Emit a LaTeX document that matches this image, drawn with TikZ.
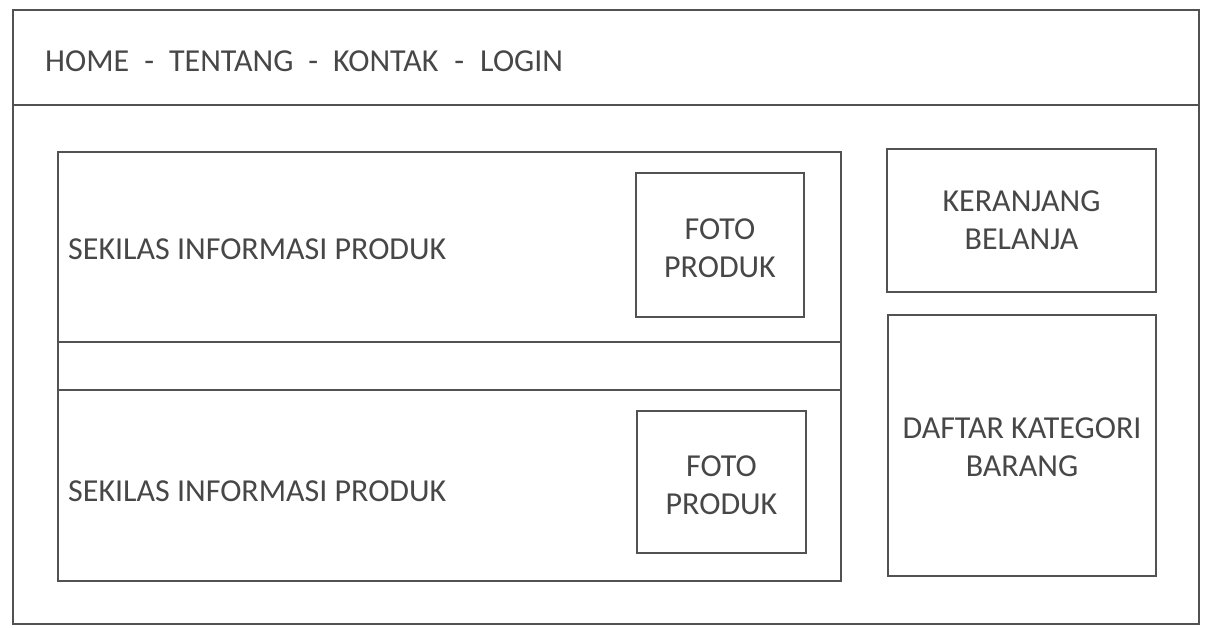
\documentclass[tikz,border=0pt]{standalone}
\usepackage{fontspec}
\setmainfont{Carlito}
\begin{document}
\begin{tikzpicture}[x=1pt,y=-1pt,
  frame/.style={draw=black!68,line width=1.8pt},
  box/.style={frame,rectangle,inner sep=0pt,outer sep=0pt},
  lbl/.style={text=black!72,font=\fontsize{32}{38}\selectfont,inner sep=0pt,align=center},
  lbll/.style={lbl,anchor=west}]
\useasboundingbox (0,0) rectangle (1208,627);
% outer page and header
\node[box,minimum width=1186pt,minimum height=614pt] (page) at (606,317) {};
\node[box,minimum width=1186pt,minimum height=95pt] (header) at (606,57.5) {};
\node[lbll] (menu) at (45,61) {HOME\hspace{15pt}-\hspace{15pt}TENTANG\hspace{15pt}-\hspace{15pt}KONTAK\hspace{16pt}-\hspace{16pt}LOGIN};
% product column
\node[box,minimum width=783pt,minimum height=429pt] (col) at (449.5,366.5) {};
\node[box,minimum width=783pt,minimum height=190pt] (item1) at (449.5,247) {};
\node[box,minimum width=783pt,minimum height=191pt] (item2) at (449.5,485.5) {};
\node[lbll] (info1) at (68,249) {SEKILAS INFORMASI PRODUK};
\node[lbll] (info2) at (68,491) {SEKILAS INFORMASI PRODUK};
\node[box,minimum width=168pt,minimum height=144pt] (foto1) at (720,245) {};
\node[lbl] at ([yshift=-3pt]foto1.center) {FOTO\\PRODUK};
\node[box,minimum width=169pt,minimum height=142pt] (foto2) at (721.5,482) {};
\node[lbl] at ([yshift=-3pt]foto2.center) {FOTO\\PRODUK};
% sidebar
\node[box,minimum width=269pt,minimum height=143pt] (cart) at (1021.5,220.5) {};
\node[lbl] at (cart.center) {KERANJANG\\BELANJA};
\node[box,minimum width=268pt,minimum height=261pt] (cat) at (1022,445.5) {};
\node[lbl] at ([yshift=-2pt]cat.center) {DAFTAR KATEGORI\\BARANG};
\end{tikzpicture}
\end{document}
